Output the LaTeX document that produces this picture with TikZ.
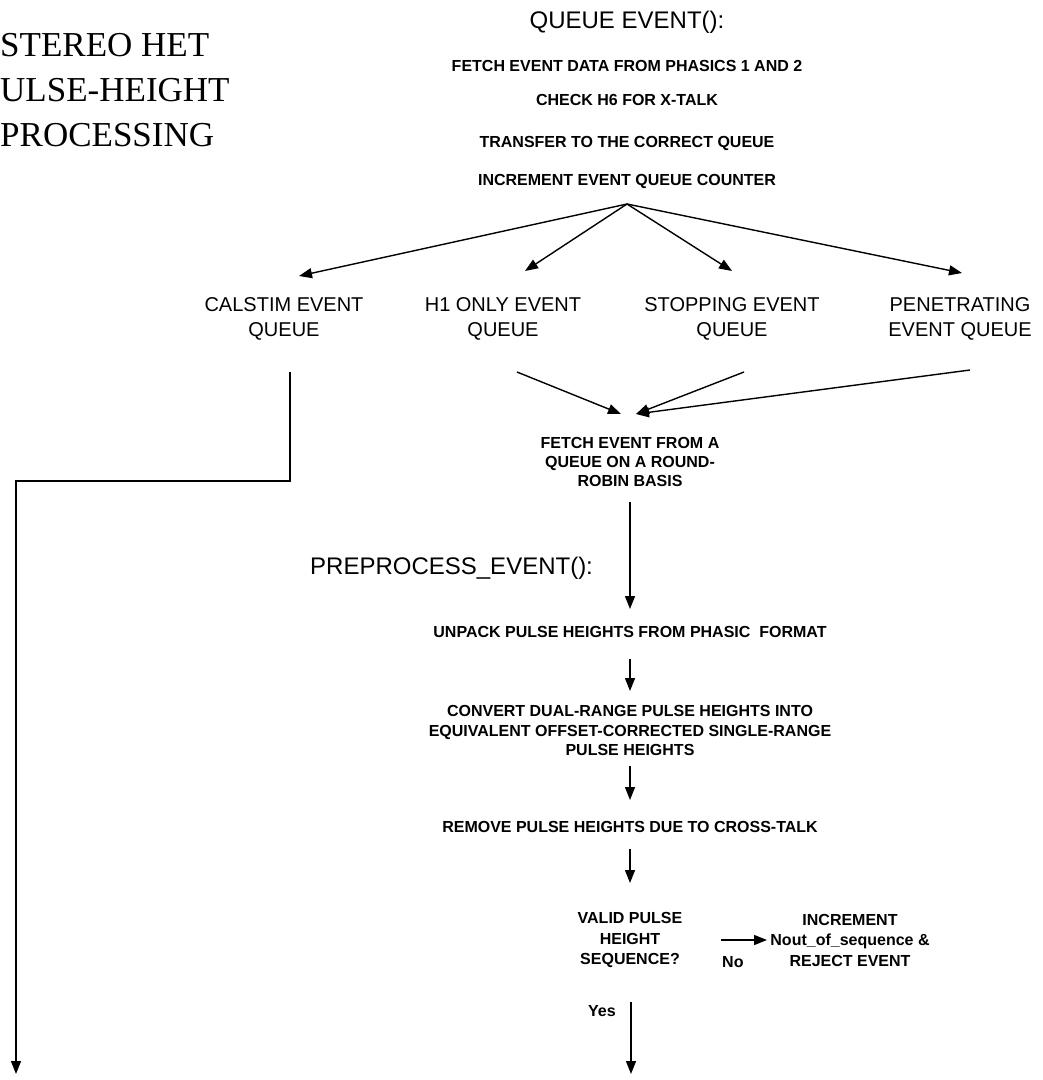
\documentclass[tikz,border=0pt]{standalone}
\usepackage{fontspec}
\setmainfont{Liberation Serif}
\setsansfont{Liberation Sans}
\usetikzlibrary{arrows.meta}
\begin{document}
\begin{tikzpicture}[x=1pt,y=-1pt,
  lbl/.style={font=\sffamily\bfseries\fontsize{16}{19}\selectfont, inner sep=0pt, align=center},
  head/.style={font=\sffamily\fontsize{24}{28}\selectfont, inner sep=0pt},
  qlbl/.style={font=\sffamily\fontsize{20}{25}\selectfont, inner sep=0pt, align=center},
  conn/.style={line width=1.4pt, -{Triangle[length=13pt,width=10pt]}},
  plain/.style={line width=1.4pt}]
\useasboundingbox (0,0) rectangle (1043,1080);

% title
\node[anchor=west, font=\fontsize{35}{45}\selectfont, align=left, inner sep=0pt] (title) at (0,90.5) {STEREO HET\\ULSE-HEIGHT\\PROCESSING};

% queue event block
\node[head, anchor=base] (qe) at (627,28) {QUEUE EVENT():};
\node[lbl, anchor=base] (q1) at (627,71) {FETCH EVENT DATA FROM PHASICS 1 AND 2};
\node[lbl, anchor=base] (q2) at (627,105) {CHECK H6 FOR X-TALK};
\node[lbl, anchor=base] (q3) at (627,147) {TRANSFER TO THE CORRECT QUEUE};
\node[lbl, anchor=base] (q4) at (627,185) {INCREMENT EVENT QUEUE COUNTER};

% queues
\node[qlbl] (cal) at (284,319) {CALSTIM EVENT\\QUEUE};
\node[qlbl] (h1) at (503,319) {H1 ONLY EVENT\\QUEUE};
\node[qlbl] (stop) at (732,319) {STOPPING EVENT\\QUEUE};
\node[qlbl] (pen) at (960,319) {PENETRATING\\EVENT QUEUE};

\coordinate (apex) at (627,204);
\coordinate (tcal) at (299,276);
\coordinate (th1) at (525,271);
\coordinate (tstop) at (732,271);
\coordinate (tpen) at (962,273);
\draw[conn] (apex) -- (tcal);
\draw[conn] (apex) -- (th1);
\draw[conn] (apex) -- (tstop);
\draw[conn] (apex) -- (tpen);

% round robin
\coordinate (sh1) at (517,372);
\coordinate (sstop) at (744,372);
\coordinate (spen) at (970,370);
\coordinate (rr1) at (621,414);
\coordinate (rr2) at (636,414);
\draw[conn] (sh1) -- (rr1);
\draw[conn] (sstop) -- (rr2);
\draw[conn] (spen) -- (rr2);
\node[lbl] (rr) at (630,462) {FETCH EVENT FROM A\\QUEUE ON A ROUND-\\ROBIN BASIS};

% calstim path
\coordinate (c0) at (290,372);
\coordinate (c1) at (290,481);
\coordinate (c2) at (16,481);
\coordinate (c3) at (16,1074);
\draw[conn] (c0) -- (c1) -- (c2) -- (c3);

% preprocess
\node[head, anchor=base west] (pp) at (310,574) {PREPROCESS\_EVENT():};
\coordinate (a1s) at (630,502);
\coordinate (a1e) at (630,609);
\draw[conn] (a1s) -- (a1e);
\node[lbl, anchor=base] (unp) at (630,637) {UNPACK PULSE HEIGHTS FROM PHASIC\ \ FORMAT};
\coordinate (a2s) at (630,659);
\coordinate (a2e) at (630,691);
\draw[conn] (a2s) -- (a2e);
\node[lbl, font=\sffamily\bfseries\fontsize{16}{19.5}\selectfont] (conv) at (630,730.5) {CONVERT DUAL-RANGE PULSE HEIGHTS INTO\\EQUIVALENT OFFSET-CORRECTED SINGLE-RANGE\\PULSE HEIGHTS};
\coordinate (a3s) at (630,766);
\coordinate (a3e) at (630,800);
\draw[conn] (a3s) -- (a3e);
\node[lbl, anchor=base] (rem) at (630,832) {REMOVE PULSE HEIGHTS DUE TO CROSS-TALK};
\coordinate (a4s) at (630,849);
\coordinate (a4e) at (630,883);
\draw[conn] (a4s) -- (a4e);

% decision
\node[lbl, font=\sffamily\bfseries\fontsize{16}{20.5}\selectfont] (valid) at (630,940) {VALID PULSE\\HEIGHT\\SEQUENCE?};
\node[lbl, font=\sffamily\bfseries\fontsize{16}{20.5}\selectfont] (incr) at (850,940) {INCREMENT\\Nout\_of\_sequence \&\\REJECT EVENT};
\coordinate (ns) at (721,940);
\coordinate (ne) at (767,940);
\draw[conn] (ns) -- (ne);
\node[lbl, anchor=base west] (no) at (722,967) {No};
\node[lbl, anchor=base west] (yes) at (588,1016) {Yes};
\coordinate (ys) at (631,1002);
\coordinate (ye) at (631,1074);
\draw[conn] (ys) -- (ye);
\end{tikzpicture}
\end{document}
